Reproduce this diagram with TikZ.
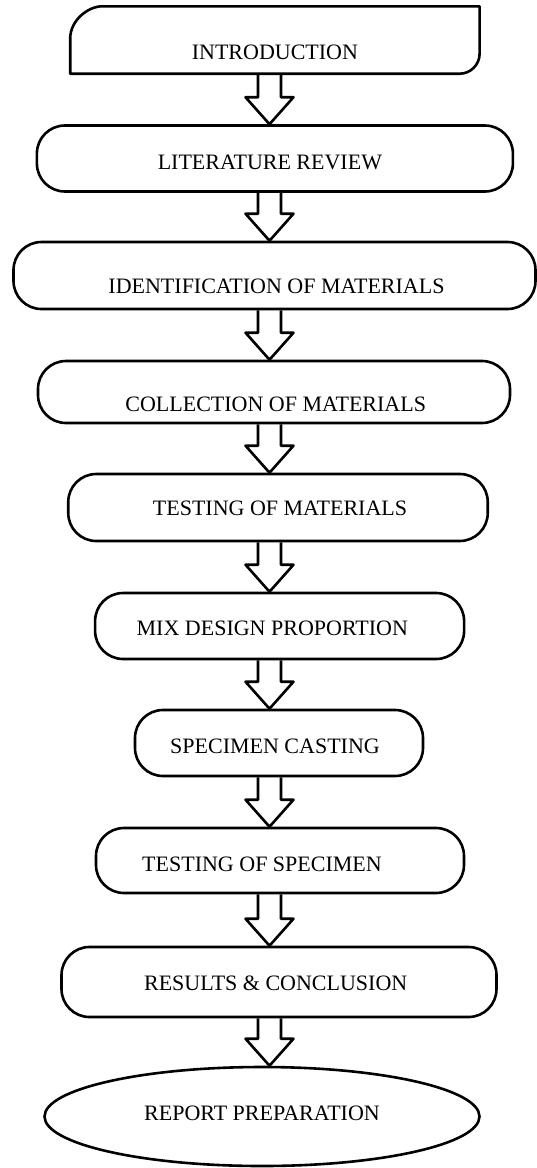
\documentclass[tikz,border=0pt]{standalone}
\usepackage{fontspec}
\setmainfont{Liberation Serif}
\usetikzlibrary{calc,shapes.geometric}
\newcommand\fatarrow[2]{%
  \draw[fat] ($(#1.south -| ax)+(-11.5,0)$) -- ($(#2.north -| ax)+(-11.5,-27)$) -- ($(#2.north -| ax)+(-24,-27)$) -- (#2.north -| ax) -- ($(#2.north -| ax)+(24,-27)$) -- ($(#2.north -| ax)+(11.5,-27)$) -- ($(#1.south -| ax)+(11.5,0)$);}
\begin{document}
\begin{tikzpicture}[x=1pt,y=-1pt,
  ln/.style={line width=2.6pt, line join=round},
  lbl/.style={inner sep=0pt, text depth=0pt, font=\fontsize{22}{24}\selectfont},
  stepbox/.style={lbl, draw, ln, rectangle, rounded corners=28pt},
  fat/.style={ln}]
\useasboundingbox (0,0) rectangle (537,1168);
\coordinate (ax) at (269.5,0);

% start box with two rounded corners
\node[lbl, rectangle, minimum width=409pt, minimum height=67pt, text height=38.4pt] (n1) at (274.9,40) {INTRODUCTION};
\draw[ln] (n1.south west) -- ($(n1.north west)+(0,32)$) .. controls ($(n1.north west)+(0,14.3)$) and ($(n1.north west)+(17.7,0)$) .. ($(n1.north west)+(32,0)$) -- (n1.north east) -- ($(n1.south east)+(0,-20)$) .. controls ($(n1.south east)+(0,-9)$) and ($(n1.south east)+(-9,0)$) .. ($(n1.south east)+(-20,0)$) -- cycle;

\node[stepbox, minimum width=476pt, minimum height=66pt, text height=21.4pt] (n2) at (274.9,158.5) {LITERATURE REVIEW\hspace*{10pt}};
\node[stepbox, minimum width=522pt, minimum height=67pt, text height=36.4pt] (n3) at (274.5,275.5) {\hspace*{4pt}IDENTIFICATION OF MATERIALS};
\node[stepbox, minimum width=472pt, minimum height=62pt, text height=38.4pt] (n4) at (274,392) {\hspace*{3.4pt}COLLECTION OF MATERIALS};
\node[stepbox, minimum width=419.5pt, minimum height=67pt, text height=16.4pt] (n5) at (278,507.5) {\hspace*{4pt}TESTING OF MATERIALS};
\node[stepbox, minimum width=369pt, minimum height=66pt, text height=18.4pt] (n6) at (279.6,626) {MIX DESIGN PROPORTION\hspace*{14.6pt}};
\node[stepbox, minimum width=288pt, minimum height=66pt, text height=20.4pt] (n7) at (279,743) {SPECIMEN CASTING\hspace*{8pt}};
\node[stepbox, minimum width=368pt, minimum height=65pt, text height=21.4pt] (n8) at (280,860.5) {TESTING OF SPECIMEN\hspace*{36pt}};
\node[stepbox, minimum width=435pt, minimum height=70pt, text height=16.4pt] (n9) at (279,982) {RESULTS \& CONCLUSION\hspace*{6.6pt}};
\node[lbl, draw, ln, ellipse, minimum width=435pt, minimum height=99pt, text height=14.4pt, text depth=6pt] (n10) at (262,1116.5) {REPORT PREPARATION};

\fatarrow{n1}{n2}
\fatarrow{n2}{n3}
\fatarrow{n3}{n4}
\fatarrow{n4}{n5}
\fatarrow{n5}{n6}
\fatarrow{n6}{n7}
\fatarrow{n7}{n8}
\fatarrow{n8}{n9}
\fatarrow{n9}{n10}
\end{tikzpicture}
\end{document}
